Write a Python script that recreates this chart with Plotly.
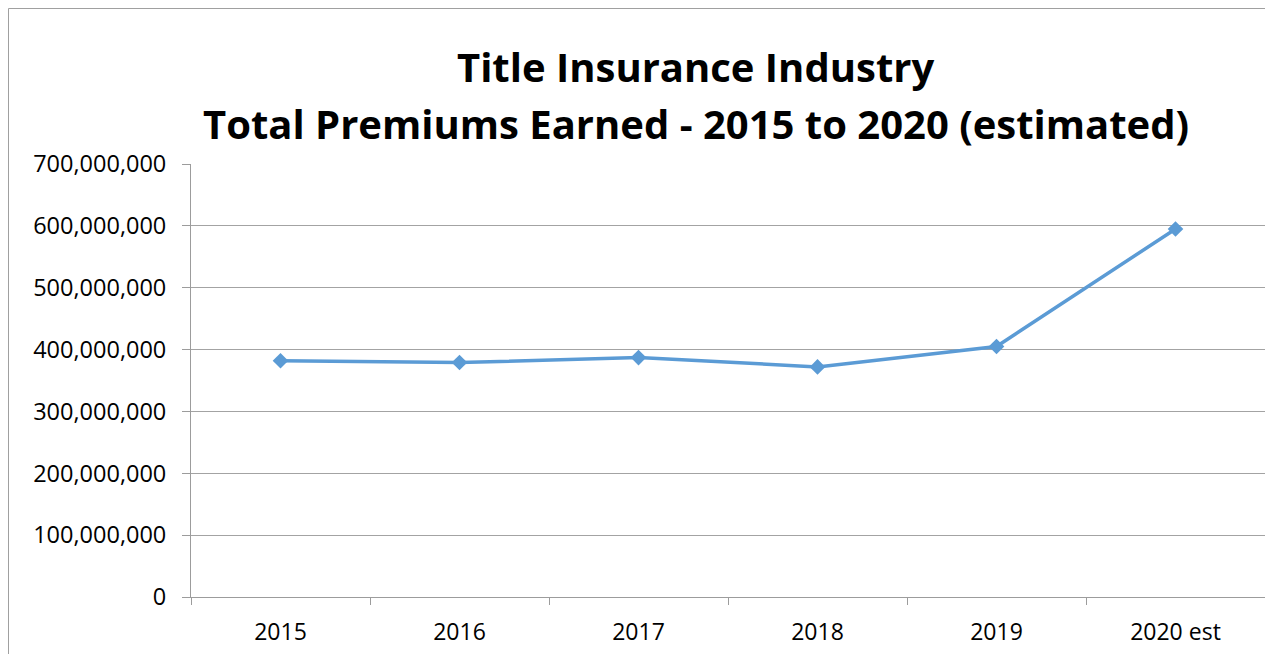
import plotly.graph_objects as go

years = ["2015", "2016", "2017", "2018", "2019", "2020 est"]
premiums = [382000000, 379000000, 387000000, 372000000, 405000000, 595000000]
y_ticks = [0, 100000000, 200000000, 300000000, 400000000, 500000000, 600000000, 700000000]
title_lines = ["Title Insurance Industry", "Total Premiums Earned - 2015 to 2020 (estimated)"]

fig = go.Figure()

fig.add_trace(go.Scatter(
    x=years, y=premiums,
    mode="lines+markers",
    line=dict(color="#5b9bd5", width=3.5),
    marker=dict(symbol="diamond", size=12, color="#5b9bd5"),
    showlegend=False,
    cliponaxis=False
))

# frame of the chart area (figure sized to fit inside the 8px body margin)
fig.add_shape(type="rect", xref="paper", yref="paper",
              x0=(0.5 - 183) / 1074, x1=(1300 - 183) / 1074,
              y0=(589 - 700) / 433, y1=(589 - 0.5) / 433,
              line=dict(color="#a0a0a0", width=1), layer="below")

# two title lines, placed separately to match line spacing
for txt, ypos in zip(title_lines, [1.225, 1.093]):
    fig.add_annotation(text="<b>" + txt + "</b>", xref="paper", yref="paper",
                       x=0.4702, y=ypos, xanchor="center", yanchor="middle",
                       showarrow=False, font=dict(size=40, family="Open Sans", color="black"))

fig.update_layout(
    width=1257, height=646,
    margin=dict(l=183, r=0, t=156, b=57),
    paper_bgcolor="white", plot_bgcolor="white",
    font=dict(family="Open Sans", color="black"),
    xaxis=dict(
        type="category", tickson="boundaries", range=[-0.5, 5.5],
        showline=True, linecolor="#9c9c9c", linewidth=1,
        ticks="outside", ticklen=7, tickcolor="#9c9c9c",
        showgrid=False, tickfont=dict(size=23),
        ticklabelstandoff=14
    ),
    yaxis=dict(
        range=[0, 700000000], tickvals=y_ticks, tickformat=",d",
        showline=True, linecolor="#9c9c9c", linewidth=1,
        ticks="outside", ticklen=8, tickcolor="#9c9c9c",
        showgrid=True, gridcolor="#a3a3a3", gridwidth=1,
        zeroline=False, tickfont=dict(size=23.5),
        ticklabelstandoff=11
    )
)

fig.write_html("out.html")
